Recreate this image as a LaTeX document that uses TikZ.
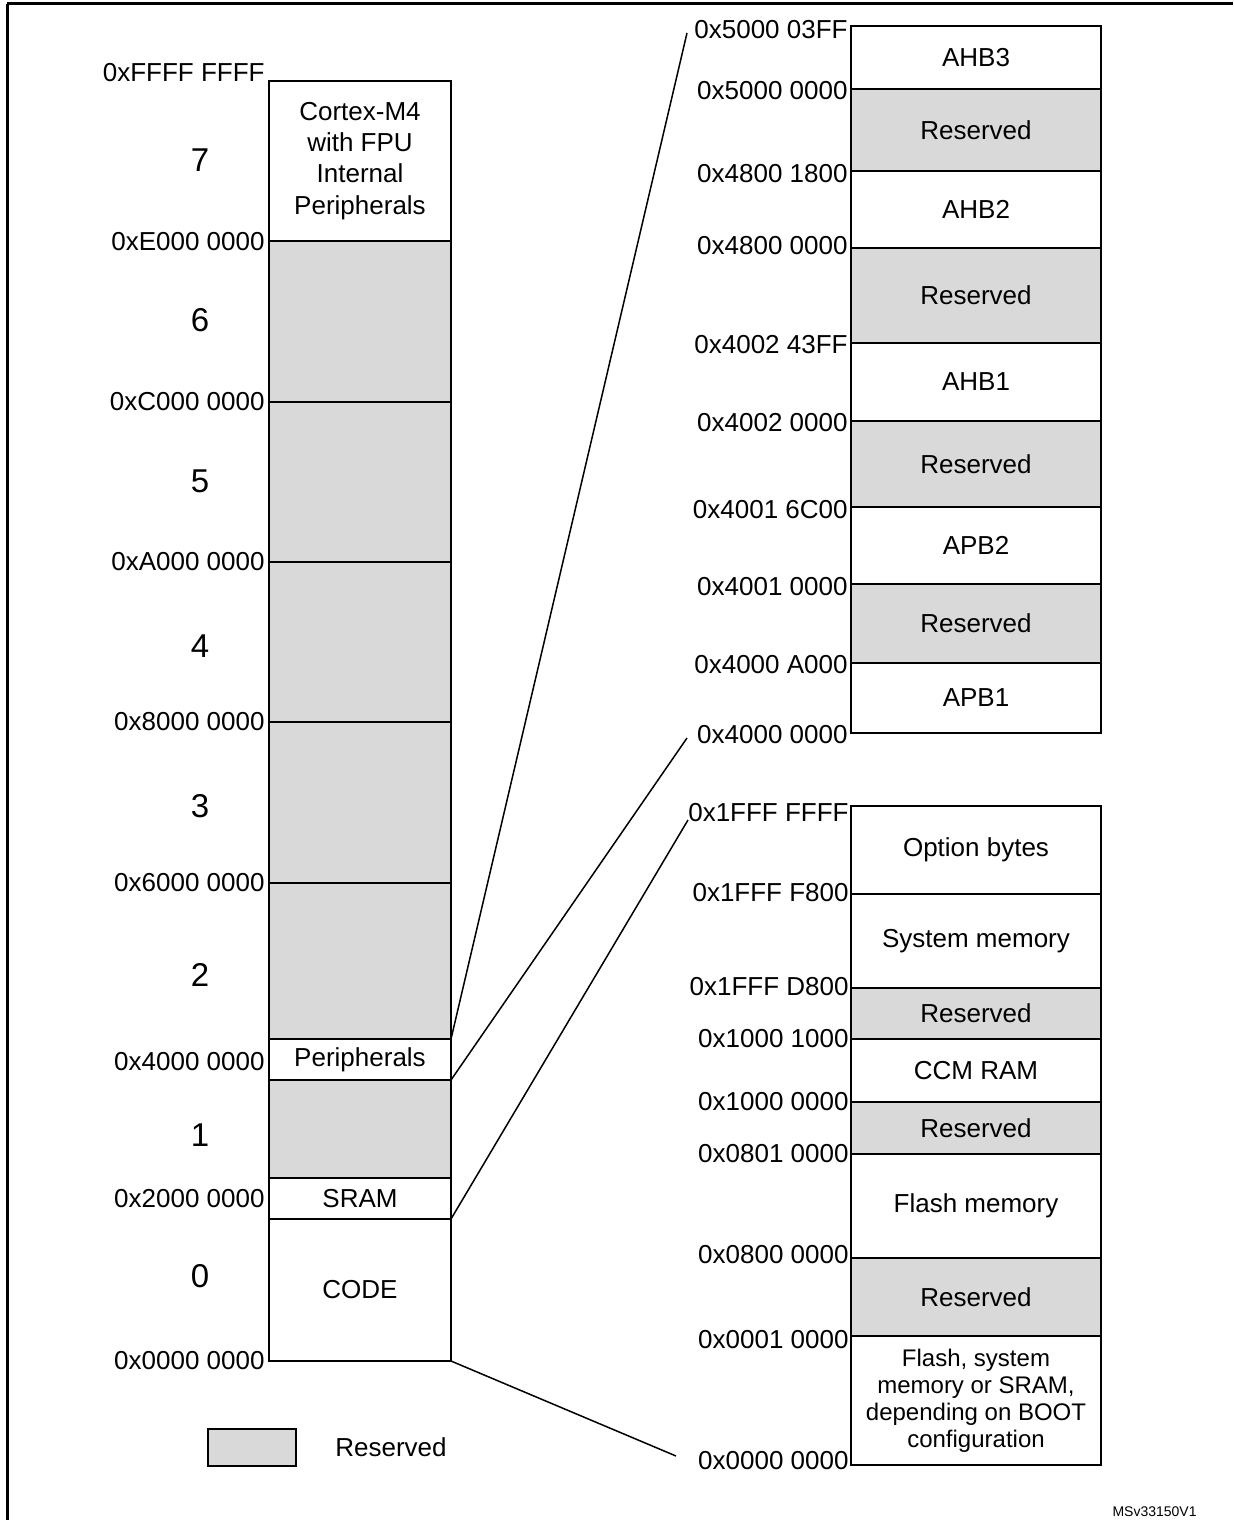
\documentclass[tikz,border=0pt]{standalone}
\usepackage{fontspec}
\setmainfont{Liberation Sans}
\usetikzlibrary{positioning}
\definecolor{mmGray}{RGB}{217,217,217}
\definecolor{mmLine}{RGB}{0,0,0}
\tikzset{
    base/.style={font=\fontsize{13}{15.6}\selectfont, align=center},
    block/.style={base, rectangle, draw=mmLine, line width=1pt, fill=white,
                  inner sep=0pt, outer sep=0pt},
    leftblk/.style={block, minimum width=91pt},
    rightblk/.style={block, minimum width=125pt},
    rsv/.style={fill=mmGray},
    addr/.style={base, anchor=east, inner sep=0pt},
    regnum/.style={font=\fontsize{16.5}{19}\selectfont, inner sep=0pt},
    zoomline/.style={line width=0.75pt, draw=mmLine},
    outerframe/.style={line width=1.5pt, draw=mmLine}
}

\begin{document}
\begin{tikzpicture}[x=0.5pt, y=-0.5pt]
  \useasboundingbox (0,0) rectangle (1233,1520);
  % Outer frame (cut off by the page)
  \draw[outerframe] (7,4) -- (1233,4);
  \draw[outerframe] (7,4) -- (7,1520);

  % Full address space
  \node[leftblk, minimum height=80pt, anchor=north west] (cortex) at (269,81)
       {Cortex-M4\\with FPU\\Internal\\Peripherals};
  \node[leftblk, rsv, minimum height=80.5pt, below=0pt of cortex] (res6) {};
  \node[leftblk, rsv, minimum height=80pt, below=0pt of res6] (res5) {};
  \node[leftblk, rsv, minimum height=80pt, below=0pt of res5] (res4) {};
  \node[leftblk, rsv, minimum height=80.5pt, below=0pt of res4] (res3) {};
  \node[leftblk, rsv, minimum height=78pt, below=0pt of res3] (res2) {};
  \node[leftblk, minimum height=20.5pt, below=0pt of res2] (periph) {Peripherals};
  \node[leftblk, rsv, minimum height=49pt, below=0pt of periph] (res1) {};
  \node[leftblk, minimum height=20.5pt, below=0pt of res1] (sram) {SRAM};
  \node[leftblk, minimum height=71pt, below=0pt of sram] (code) {CODE};

  % Region numbers
  \foreach \y/\n in {160/7, 320/6, 481/5, 646/4, 806/3, 975/2, 1135/1, 1276/0}
    \node[regnum] (num\n) at (200,\y) {\n};

  % Addresses of the full map
  \foreach \y/\txt [count=\i] in {73/0xFFFF FFFF, 242/0xE000 0000, 402/0xC000 0000,
      562/0xA000 0000, 722/0x8000 0000, 883/0x6000 0000, 1062/0x4000 0000,
      1199/0x2000 0000, 1361/0x0000 0000}
    \node[addr] (laddr\i) at (265,\y) {\txt};

  % Peripheral buses
  \node[rightblk, minimum height=31.5pt, anchor=north west] (ahb3) at (851,26) {AHB3};
  \node[rightblk, rsv, minimum height=41pt, below=0pt of ahb3] (resA) {Reserved};
  \node[rightblk, minimum height=38.5pt, below=0pt of resA] (ahb2) {AHB2};
  \node[rightblk, rsv, minimum height=47.5pt, below=0pt of ahb2] (resB) {Reserved};
  \node[rightblk, minimum height=39pt, below=0pt of resB] (ahb1) {AHB1};
  \node[rightblk, rsv, minimum height=43pt, below=0pt of ahb1] (resC) {Reserved};
  \node[rightblk, minimum height=38.5pt, below=0pt of resC] (apb2) {APB2};
  \node[rightblk, rsv, minimum height=39.5pt, below=0pt of apb2] (resD) {Reserved};
  \node[rightblk, minimum height=35pt, below=0pt of resD] (apb1) {APB1};

  \foreach \y/\txt [count=\i] in {30/0x5000 03FF, 91/0x5000 0000, 174/0x4800 1800,
      246/0x4800 0000, 345/0x4002 43FF, 423/0x4002 0000, 510/0x4001 6C00,
      587/0x4001 0000, 665/0x4000 A000, 735/0x4000 0000}
    \node[addr] (paddr\i) at (848,\y) {\txt};

  % Code area
  \node[rightblk, minimum height=44pt, anchor=north west] (optb) at (851,806) {Option bytes};
  \node[rightblk, minimum height=47pt, below=0pt of optb] (sysmem) {System memory};
  \node[rightblk, rsv, minimum height=25.5pt, below=0pt of sysmem] (resE) {Reserved};
  \node[rightblk, minimum height=31.5pt, below=0pt of resE] (ccm) {CCM RAM};
  \node[rightblk, rsv, minimum height=26pt, below=0pt of ccm] (resF) {Reserved};
  \node[rightblk, minimum height=52pt, below=0pt of resF] (flash) {Flash memory};
  \node[rightblk, rsv, minimum height=39pt, below=0pt of flash] (resG) {Reserved};
  \node[rightblk, minimum height=64.5pt, below=0pt of resG,
        font=\fontsize{12}{13.5}\selectfont] (boot)
       {Flash, system\\memory or SRAM,\\depending on BOOT\\configuration};

  \foreach \y/\txt [count=\i] in {813/0x1FFF FFFF, 893/0x1FFF F800, 987/0x1FFF D800,
      1039/0x1000 1000, 1102/0x1000 0000, 1154/0x0801 0000, 1255/0x0800 0000,
      1340/0x0001 0000, 1461/0x0000 0000}
    \node[addr] (caddr\i) at (849,\y) {\txt};

  % Zoom lines
  \coordinate (zTop) at (687,33);
  \coordinate (zMid) at (687,738);
  \coordinate (zCodeTop) at (688,820);
  \coordinate (zCodeBot) at (676,1456);
  \draw[zoomline] (periph.north east) -- (zTop);
  \draw[zoomline] (periph.south east) -- (zMid);
  \draw[zoomline] (code.north east) -- (zCodeTop);
  \draw[zoomline] (code.south east) -- (zCodeBot);

  % Legend
  \node[block, rsv, minimum width=44pt, minimum height=18.5pt] (legbox) at (252,1447) {};
  \node[base, inner sep=0pt, right=19.5pt of legbox] (legtxt) {Reserved};

  \node[font=\fontsize{7}{8}\selectfont, anchor=east, inner sep=0pt] (figid)
       at (1197,1512) {MSv33150V1};
\end{tikzpicture}
\end{document}
